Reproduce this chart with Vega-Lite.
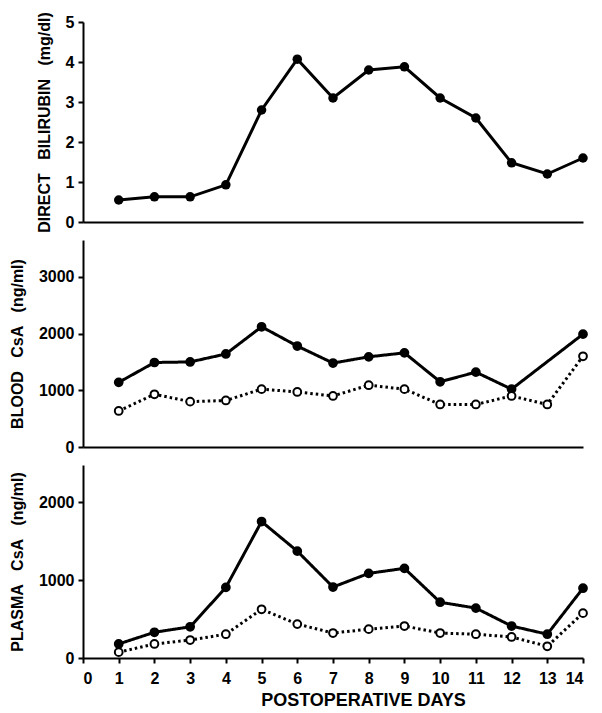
{
  "$schema": "https://vega.github.io/schema/vega-lite/v6.json",
  "background": "white",
  "padding": {"left": 9, "top": 11, "right": 5, "bottom": 5},
  "spacing": 18,
  "bounds": "flush",
  "config": {
    "view": {"stroke": null},
    "font": "Liberation Sans",
    "axis": {
      "grid": false,
      "domainColor": "black",
      "domainWidth": 2,
      "tickColor": "black",
      "tickWidth": 2,
      "tickSize": 5,
      "labelFont": "Liberation Sans",
      "labelFontWeight": "bold",
      "labelFontSize": 16,
      "labelColor": "black",
      "titleFont": "Liberation Sans",
      "titleFontWeight": "bold",
      "titleFontSize": 16,
      "titleColor": "black"
    },
    "axisY": {"labelPadding": 4, "titlePadding": 13, "format": "d"}
  },
  "datasets": {
    "d": [
      {"panel": "bili", "type": "filled", "day": 1, "value": 0.55},
      {"panel": "bili", "type": "filled", "day": 2, "value": 0.63},
      {"panel": "bili", "type": "filled", "day": 3, "value": 0.63},
      {"panel": "bili", "type": "filled", "day": 4, "value": 0.93},
      {"panel": "bili", "type": "filled", "day": 5, "value": 2.8},
      {"panel": "bili", "type": "filled", "day": 6, "value": 4.07},
      {"panel": "bili", "type": "filled", "day": 7, "value": 3.1},
      {"panel": "bili", "type": "filled", "day": 8, "value": 3.8},
      {"panel": "bili", "type": "filled", "day": 9, "value": 3.88},
      {"panel": "bili", "type": "filled", "day": 10, "value": 3.1},
      {"panel": "bili", "type": "filled", "day": 11, "value": 2.6},
      {"panel": "bili", "type": "filled", "day": 12, "value": 1.48},
      {"panel": "bili", "type": "filled", "day": 13, "value": 1.2},
      {"panel": "bili", "type": "filled", "day": 14, "value": 1.6},

      {"panel": "blood", "type": "filled", "day": 1, "value": 1140},
      {"panel": "blood", "type": "filled", "day": 2, "value": 1490},
      {"panel": "blood", "type": "filled", "day": 3, "value": 1500},
      {"panel": "blood", "type": "filled", "day": 4, "value": 1640},
      {"panel": "blood", "type": "filled", "day": 5, "value": 2120},
      {"panel": "blood", "type": "filled", "day": 6, "value": 1780},
      {"panel": "blood", "type": "filled", "day": 7, "value": 1480},
      {"panel": "blood", "type": "filled", "day": 8, "value": 1590},
      {"panel": "blood", "type": "filled", "day": 9, "value": 1660},
      {"panel": "blood", "type": "filled", "day": 10, "value": 1150},
      {"panel": "blood", "type": "filled", "day": 11, "value": 1320},
      {"panel": "blood", "type": "filled", "day": 12, "value": 1020},
      {"panel": "blood", "type": "filled", "day": 14, "value": 1990},

      {"panel": "blood", "type": "open", "day": 1, "value": 635},
      {"panel": "blood", "type": "open", "day": 2, "value": 930},
      {"panel": "blood", "type": "open", "day": 3, "value": 800},
      {"panel": "blood", "type": "open", "day": 4, "value": 820},
      {"panel": "blood", "type": "open", "day": 5, "value": 1020},
      {"panel": "blood", "type": "open", "day": 6, "value": 970},
      {"panel": "blood", "type": "open", "day": 7, "value": 900},
      {"panel": "blood", "type": "open", "day": 8, "value": 1090},
      {"panel": "blood", "type": "open", "day": 9, "value": 1020},
      {"panel": "blood", "type": "open", "day": 10, "value": 750},
      {"panel": "blood", "type": "open", "day": 11, "value": 750},
      {"panel": "blood", "type": "open", "day": 12, "value": 900},
      {"panel": "blood", "type": "open", "day": 13, "value": 750},
      {"panel": "blood", "type": "open", "day": 14, "value": 1600},

      {"panel": "plasma", "type": "filled", "day": 1, "value": 180},
      {"panel": "plasma", "type": "filled", "day": 2, "value": 330},
      {"panel": "plasma", "type": "filled", "day": 3, "value": 400},
      {"panel": "plasma", "type": "filled", "day": 4, "value": 905},
      {"panel": "plasma", "type": "filled", "day": 5, "value": 1750},
      {"panel": "plasma", "type": "filled", "day": 6, "value": 1370},
      {"panel": "plasma", "type": "filled", "day": 7, "value": 910},
      {"panel": "plasma", "type": "filled", "day": 8, "value": 1085},
      {"panel": "plasma", "type": "filled", "day": 9, "value": 1150},
      {"panel": "plasma", "type": "filled", "day": 10, "value": 715},
      {"panel": "plasma", "type": "filled", "day": 11, "value": 640},
      {"panel": "plasma", "type": "filled", "day": 12, "value": 410},
      {"panel": "plasma", "type": "filled", "day": 13, "value": 305},
      {"panel": "plasma", "type": "filled", "day": 14, "value": 895},

      {"panel": "plasma", "type": "open", "day": 1, "value": 75},
      {"panel": "plasma", "type": "open", "day": 2, "value": 180},
      {"panel": "plasma", "type": "open", "day": 3, "value": 230},
      {"panel": "plasma", "type": "open", "day": 4, "value": 305},
      {"panel": "plasma", "type": "open", "day": 5, "value": 625},
      {"panel": "plasma", "type": "open", "day": 6, "value": 435},
      {"panel": "plasma", "type": "open", "day": 7, "value": 320},
      {"panel": "plasma", "type": "open", "day": 8, "value": 370},
      {"panel": "plasma", "type": "open", "day": 9, "value": 410},
      {"panel": "plasma", "type": "open", "day": 10, "value": 320},
      {"panel": "plasma", "type": "open", "day": 11, "value": 305},
      {"panel": "plasma", "type": "open", "day": 12, "value": 270},
      {"panel": "plasma", "type": "open", "day": 13, "value": 150},
      {"panel": "plasma", "type": "open", "day": 14, "value": 575}
    ]
  },
  "vconcat": [
    {
      "width": 500,
      "height": 200,
      "data": {"name": "d"},
      "transform": [{"filter": "datum.panel === 'bili'"}],
      "encoding": {
        "x": {"field": "day", "type": "quantitative", "scale": {"domain": [0, 14], "nice": false},
              "axis": {"labels": false, "ticks": false, "title": null}},
        "y": {"field": "value", "type": "quantitative", "scale": {"domain": [0, 5], "nice": false},
              "axis": {"values": [0, 1, 2, 3, 4, 5], "title": "DIRECT\u00a0\u00a0\u00a0BILIRUBIN\u00a0\u00a0\u00a0(mg/dl)"}}
      },
      "layer": [
        {"mark": {"type": "line", "color": "black", "strokeWidth": 3}},
        {"mark": {"type": "point", "shape": "circle", "filled": true, "size": 90, "color": "black", "opacity": 1}}
      ]
    },
    {
      "width": 500,
      "height": 207,
      "data": {"name": "d"},
      "transform": [{"filter": "datum.panel === 'blood'"}],
      "encoding": {
        "x": {"field": "day", "type": "quantitative", "scale": {"domain": [0, 14], "nice": false},
              "axis": {"labels": false, "ticks": false, "title": null}},
        "y": {"field": "value", "type": "quantitative", "scale": {"domain": [0, 3650], "nice": false},
              "axis": {"values": [0, 1000, 2000, 3000], "title": "BLOOD\u00a0\u00a0\u00a0CsA\u00a0\u00a0\u00a0(ng/ml)"}}
      },
      "layer": [
        {"mark": {"type": "line", "color": "black", "strokeWidth": 3},
         "encoding": {
           "detail": {"field": "type"},
           "strokeDash": {"field": "type", "type": "nominal", "scale": {"domain": ["filled", "open"], "range": [[1, 0], [2.5, 3]]}, "legend": null}
         }},
        {"mark": {"type": "point", "shape": "circle", "filled": true, "size": 60, "stroke": "black", "strokeWidth": 2, "opacity": 1},
         "encoding": {
           "fill": {"field": "type", "type": "nominal", "scale": {"domain": ["filled", "open"], "range": ["black", "white"]}, "legend": null}
         }}
      ]
    },
    {
      "width": 500,
      "height": 193,
      "data": {"name": "d"},
      "transform": [{"filter": "datum.panel === 'plasma'"}],
      "encoding": {
        "x": {"field": "day", "type": "quantitative", "scale": {"domain": [0, 14], "nice": false},
              "axis": {"values": [0,1,2,3,4,5,6,7,8,9,10,11,12,13,14], "title": "POSTOPERATIVE DAYS", "titleFontSize": 18, "titleX": 280, "titlePadding": 5, "labelPadding": 7}},
        "y": {"field": "value", "type": "quantitative", "scale": {"domain": [0, 2475], "nice": false},
              "axis": {"values": [0, 1000, 2000], "title": "PLASMA\u00a0\u00a0\u00a0CsA\u00a0\u00a0\u00a0(ng/ml)"}}
      },
      "layer": [
        {"mark": {"type": "line", "color": "black", "strokeWidth": 3},
         "encoding": {
           "detail": {"field": "type"},
           "strokeDash": {"field": "type", "type": "nominal", "scale": {"domain": ["filled", "open"], "range": [[1, 0], [2.5, 3]]}, "legend": null}
         }},
        {"mark": {"type": "point", "shape": "circle", "filled": true, "size": 60, "stroke": "black", "strokeWidth": 2, "opacity": 1},
         "encoding": {
           "fill": {"field": "type", "type": "nominal", "scale": {"domain": ["filled", "open"], "range": ["black", "white"]}, "legend": null}
         }}
      ]
    }
  ]
}
